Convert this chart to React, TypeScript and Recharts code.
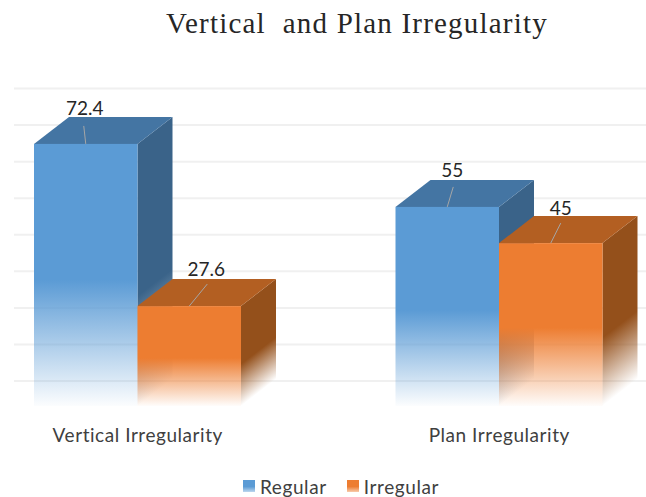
import { BarChart, Bar, XAxis, YAxis, CartesianGrid, Legend, LabelList } from 'recharts';

const categories = ['Vertical Irregularity', 'Plan Irregularity'];
const regular = [72.4, 55];
const irregular = [27.6, 45];
const gridValues = [6.9, 17, 27.1, 37.2, 47.3, 57.4, 67.5, 77.6, 87.7];

const chartData = categories.map((name, i) => ({ name, regular: regular[i], irregular: irregular[i] }));

const DEPTH_X = 35;
const DEPTH_Y = 27;
const FONT = 'Lato, "Noto Sans", sans-serif';

// leader line end relative to the middle of the bar's front top edge
const leaders: Record<string, [number, number][]> = {
  regular: [[-2, -18], [6, -20]],
  irregular: [[18, -22], [10, -20]],
};
const labelOffsets: Record<string, [number, number][]> = {
  regular: [[-1, -36], [5, -37]],
  irregular: [[17, -38], [10, -36]],
};

function Block(props: any) {
  const { x, y, width, height, index, dataKey, front, top, side } = props;
  const xr = x + width;
  const yb = y + height;
  const k = DEPTH_Y / DEPTH_X;
  const id = `side-${dataKey}-${index}`;
  return (
    <g>
      <defs>
        <linearGradient
          id={id}
          gradientUnits="userSpaceOnUse"
          x1={xr}
          x2={xr}
          y1={y + height * 0.58}
          y2={yb}
          gradientTransform={`matrix(1 ${-k} 0 1 0 ${k * xr})`}
        >
          <stop offset="0" stopColor={side} stopOpacity={1} />
          <stop offset="1" stopColor={side} stopOpacity={0} />
        </linearGradient>
      </defs>
      <polygon
        points={`${xr},${y} ${xr + DEPTH_X},${y - DEPTH_Y} ${xr + DEPTH_X},${yb - DEPTH_Y} ${xr},${yb}`}
        fill={`url(#${id})`}
      />
      <polygon
        points={`${x},${y} ${x + DEPTH_X},${y - DEPTH_Y} ${xr + DEPTH_X},${y - DEPTH_Y} ${xr},${y}`}
        fill={top}
      />
      <rect x={x} y={y} width={width} height={height} fill={`url(#${front})`} />
    </g>
  );
}

function BlockLabel(props: any) {
  const { x, y, width, value, index, seriesKey } = props;
  const cx = x + width / 2;
  const [lx, ly] = leaders[seriesKey][index];
  const [tx, ty] = labelOffsets[seriesKey][index];
  return (
    <g>
      <line x1={cx} y1={y} x2={cx + lx} y2={y + ly} stroke="#a6a6a6" strokeWidth={1} />
      <text x={cx + tx} y={y + ty} textAnchor="middle" dominantBaseline="central" fontFamily={FONT} fontSize={19} fill="#262626">
        {value}
      </text>
    </g>
  );
}

function LegendBox() {
  const items = [
    { label: 'Regular', c: '#5b9bd5' },
    { label: 'Irregular', c: '#ed7d31' },
  ];
  return (
    <div style={{ display: 'flex', justifyContent: 'center', height: 28, alignItems: 'center', fontFamily: FONT, fontSize: 19, color: '#404040', letterSpacing: 0.6, paddingLeft: 45, transform: 'translateY(3px)' }}>
      {items.map((it, i) => (
        <span key={it.label} style={{ display: 'flex', alignItems: 'center', marginRight: i === 0 ? 20 : 0 }}>
          <span
            style={{
              width: 12,
              height: 12,
              marginRight: 5,
              background: `linear-gradient(${it.c} 55%, ${it.c}66 100%)`,
            }}
          />
          {it.label}
        </span>
      ))}
    </div>
  );
}

export default function App() {
  return (
    <div style={{ position: 'absolute', left: 0, top: 0 }}>
      <BarChart
        width={646}
        height={497}
        data={chartData}
        barSize={103.5}
        barGap={0}
        margin={{ top: 88, right: -34, bottom: 0, left: -43 }}
      >
        <defs>
          <linearGradient id="fadeRegular" x1="0" x2="0" y1="0" y2="1">
            <stop offset="0.52" stopColor="#5b9bd5" stopOpacity={1} />
            <stop offset="1" stopColor="#5b9bd5" stopOpacity={0.02} />
          </linearGradient>
          <linearGradient id="fadeIrregular" x1="0" x2="0" y1="0" y2="1">
            <stop offset="0.52" stopColor="#ed7d31" stopOpacity={1} />
            <stop offset="1" stopColor="#ed7d31" stopOpacity={0.02} />
          </linearGradient>
        </defs>
        <text x={357} y={33} textAnchor="middle" fontFamily='"Liberation Serif", serif' fontSize={29} letterSpacing={1.2} fill="#262626" style={{ whiteSpace: 'pre' }}>
          Vertical{'  '}and Plan Irregularity
        </text>
        <CartesianGrid
          vertical={false}
          horizontalValues={gridValues}
          horizontal={(p: any) => <line key={p.key} x1={14} x2={646} y1={p.y1} y2={p.y2} stroke="#f0f0f0" strokeWidth={2} />}
        />
        <XAxis
          dataKey="name"
          axisLine={false}
          tickLine={false}
          height={63}
          tickMargin={17}
          tick={{ fontFamily: FONT, fontSize: 19, fill: '#404040', letterSpacing: 0.55 }}
          interval={0}
        />
        <YAxis hide domain={[0, 87.85]} />
        <Bar
          dataKey="regular"
          name="Regular"
          fill="#5b9bd5"
          isAnimationActive={false}
          shape={(p: any) => <Block {...p} dataKey="regular" front="fadeRegular" top="#4475a3" side="#3a6389" />}
        >
          <LabelList dataKey="regular" content={(p: any) => <BlockLabel {...p} seriesKey="regular" />} />
        </Bar>
        <Bar
          dataKey="irregular"
          name="Irregular"
          fill="#ed7d31"
          isAnimationActive={false}
          shape={(p: any) => <Block {...p} dataKey="irregular" front="fadeIrregular" top="#b35f22" side="#94501b" />}
        >
          <LabelList dataKey="irregular" content={(p: any) => <BlockLabel {...p} seriesKey="irregular" />} />
        </Bar>
        <Legend verticalAlign="bottom" content={() => <LegendBox />} />
      </BarChart>
    </div>
  );
}
